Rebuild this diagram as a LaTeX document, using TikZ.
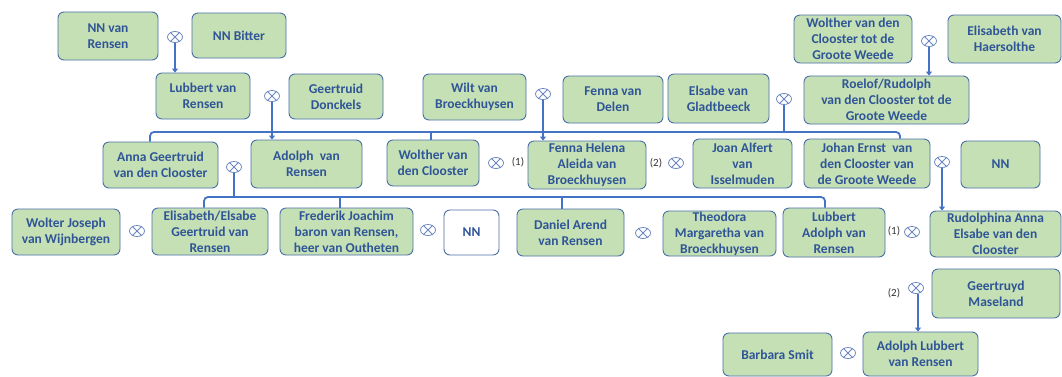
\documentclass[tikz,border=0pt]{standalone}
\usepackage{fontspec}
\setmainfont{Carlito}
\usetikzlibrary{arrows.meta,shapes.geometric}
\definecolor{boxfill}{HTML}{C5E0B4}
\definecolor{boxline}{HTML}{4A6FA8}
\definecolor{boxtext}{HTML}{2F5597}
\definecolor{conn}{HTML}{4472C4}
\definecolor{symb}{HTML}{6A87C0}
\tikzset{
 person/.style={draw=boxline, fill=boxfill, line width=0.9pt, rounded corners=6pt, align=center, text=boxtext, font=\bfseries\fontsize{13.5}{16}\selectfont, inner sep=0pt},
 unknown/.style={person, fill=white},
 wed/.style={ellipse, draw=symb, line width=0.8pt, minimum width=15pt, minimum height=11pt, inner sep=0pt},
 stem/.style={draw=conn, line width=2.4pt},
 bus/.style={draw=conn, line width=1.8pt, rounded corners=4pt},
 arr/.style={stem, -{Triangle[width=6pt,length=4pt]}},
 nr/.style={font=\fontsize{11}{12}\selectfont, text=black!80, inner sep=0pt},
}
\begin{document}
\begin{tikzpicture}[x=1pt,y=-1pt]
\useasboundingbox (0,0) rectangle (1062,376);
% row 0
\node[person, minimum width=100pt, minimum height=48pt] (nnvr) at (108,36) {NN van\\Rensen};
\node[person, minimum width=94pt, minimum height=45pt] (nnb) at (239,35.5) {NN Bitter};
\node[person, minimum width=118pt, minimum height=48pt] (wvdc) at (853,39) {Wolther van den\\Clooster tot de\\Groote Weede};
\node[person, minimum width=113pt, minimum height=48pt] (evh) at (1004.5,39) {Elisabeth van\\Haersolthe};
% row 1
\node[person, minimum width=94pt, minimum height=46pt] (lvr) at (203,96) {Lubbert van\\Rensen};
\node[person, minimum width=94pt, minimum height=45pt] (gd) at (336,96.5) {Geertruid\\Donckels};
\node[person, minimum width=103pt, minimum height=46pt] (wvb) at (474.5,97) {Wilt van\\Broeckhuysen};
\node[person, minimum width=100pt, minimum height=47pt] (fvd) at (613,99.5) {Fenna van\\Delen};
\node[person, minimum width=101pt, minimum height=49pt] (evg) at (718.5,98.5) {Elsabe van\\Gladtbeeck};
\node[person, minimum width=165pt, minimum height=48pt] (rr) at (886.5,100) {Roelof/Rudolph\\van den Clooster tot de\\Groote Weede};
% row 2
\node[person, minimum width=115pt, minimum height=46pt] (agvdc) at (160.5,165) {Anna Geertruid\\van den Clooster};
\node[person, minimum width=111pt, minimum height=48pt] (avr) at (306.5,164) {Adolph~ van\\Rensen};
\node[person, minimum width=92pt, minimum height=46pt] (wvdc2) at (433,163) {Wolther van\\den Clooster};
\node[person, minimum width=118pt, minimum height=48pt] (fha) at (587,165) {Fenna Helena\\Aleida van\\Broeckhuysen};
\node[person, minimum width=99pt, minimum height=49pt] (jaf) at (742.5,163.5) {Joan Alfert\\van\\Isselmuden};
\node[person, minimum width=126pt, minimum height=49pt] (jev) at (867,163.5) {Johan Ernst~ van\\den Clooster van\\de Groote Weede};
\node[person, minimum width=79pt, minimum height=47pt] (nn1) at (1000.5,164.5) {NN};
% row 3
\node[person, minimum width=108pt, minimum height=46pt] (wjw) at (66,232) {Wolter Joseph\\van Wijnbergen};
\node[person, minimum width=116pt, minimum height=47pt] (eeg) at (210,231.5) {Elisabeth/Elsabe\\Geertruid van\\Rensen};
\node[person, minimum width=133pt, minimum height=47pt] (fjb) at (346.5,231.5) {Frederik Joachim\\baron van Rensen,\\heer van Outheten};
\node[unknown, minimum width=55pt, minimum height=45pt] (nn2) at (471.5,232.5) {NN};
\node[person, minimum width=107pt, minimum height=47pt] (dar) at (570.5,232.5) {Daniel Arend\\van Rensen};
\node[person, minimum width=113pt, minimum height=45pt] (tmb) at (719.5,233.5) {Theodora\\Margaretha van\\Broeckhuysen};
\node[person, minimum width=102pt, minimum height=49pt] (lavr) at (834,232.5) {Lubbert\\Adolph van\\Rensen};
\node[person, minimum width=131pt, minimum height=46pt] (rae) at (995.5,234) {Rudolphina Anna\\Elsabe van den\\Clooster};
% row 4
\node[person, minimum width=128pt, minimum height=49pt] (gm) at (996,293.5) {Geertruyd\\Maseland};
\node[person, minimum width=115pt, minimum height=44pt] (alvr) at (920.5,354) {Adolph Lubbert\\van Rensen};
\node[person, minimum width=109pt, minimum height=43pt] (bs) at (777.5,354.5) {Barbara Smit};
% marriage symbols
\node[wed] (m1) at (175,37) {};
\node[wed] (m2) at (929,41) {};
\node[wed] (m3) at (272,96) {};
\node[wed] (m4) at (543,94) {};
\node[wed] (m5) at (784,99) {};
\node[wed] (m6) at (234,167) {};
\node[wed] (m7) at (496,163) {};
\node[wed] (m8) at (676,163) {};
\node[wed] (m9) at (942,162) {};
\node[wed] (m10) at (137,231) {};
\node[wed] (m11) at (428,230) {};
\node[wed] (m12) at (643,233) {};
\node[wed] (m13) at (912,232) {};
\node[wed] (m14) at (916,288) {};
\node[wed] (m15) at (848,353) {};
\foreach \i in {1,...,15}
  \draw[symb, line width=0.8pt] (m\i.45) -- (m\i.225) (m\i.135) -- (m\i.315);
% numbers
\node[nr] (n1) at (518,162) {(1)};
\node[nr] (n2) at (656,163) {(2)};
\node[nr] (n3) at (894,231) {(1)};
\node[nr] (n4) at (894,293) {(2)};
% arrows from marriages
\draw[arr] (m1.south) -- (m1.south |- lvr.north);
\draw[arr] (m2.south) -- (m2.south |- rr.north);
\draw[arr] (m3.south) -- (m3.south |- avr.north);
\draw[arr] (m4.south) -- (m4.south |- fha.north);
\draw[arr] (m9.south) -- (m9.south |- rae.north);
\draw[arr] ([xshift=2pt]m14.south) -- ([xshift=2pt]m14.south |- alvr.north);
% bus 1
\coordinate (b1a) at (150,132);
\coordinate (b1w) at (431,132);
\coordinate (b1b) at (900,132);
\draw[bus] (b1a |- agvdc.north) -- (b1a) -- (b1b) -- (b1b |- jev.north);
\draw[bus] (b1w) -- (b1w |- wvdc2.north);
\draw[stem] (m5.south) -- (m5.south |- b1a);
% bus 2
\coordinate (b2a) at (204,197);
\coordinate (b2f) at (340,197);
\coordinate (b2d) at (562,197);
\coordinate (b2b) at (825,197);
\draw[bus] (b2a |- eeg.north) -- (b2a) -- (b2b) -- (b2b |- lavr.north);
\draw[bus] (b2f) -- (b2f |- fjb.north);
\draw[bus] (b2d) -- (b2d |- dar.north);
\draw[stem] (m6.south) -- (m6.south |- b2a);
\end{tikzpicture}
\end{document}
